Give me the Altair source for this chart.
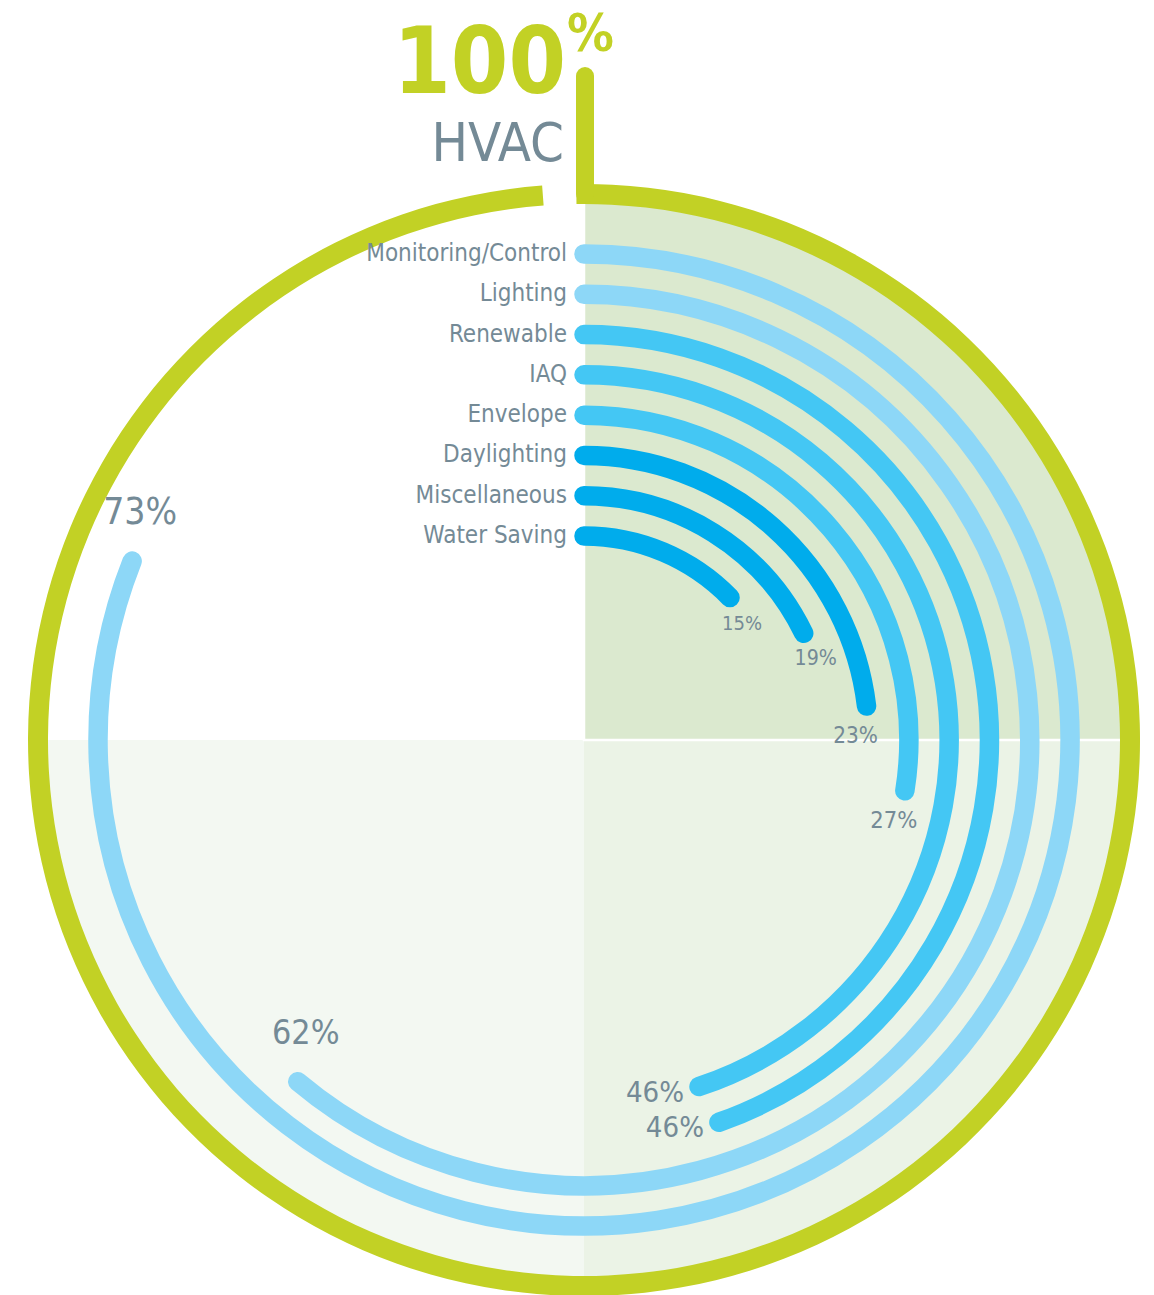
import math
import altair as alt
import pandas as pd

# ---- data ----
categories = ["Water Saving", "Miscellaneous", "Daylighting", "Envelope",
              "IAQ", "Renewable", "Lighting", "Monitoring/Control"]
values = [15, 19, 23, 27, 46, 46, 62, 73]                    # printed labels (%)
arc_extent = [12.7, 17.8, 23.1, 27.5, 44.9, 44.6, 61.1, 81.0]  # drawn sweep (% of full turn)
arc_colors = ["#00acec", "#00acec", "#00acec", "#44c7f4",
              "#44c7f4", "#44c7f4", "#8dd7f7", "#8dd7f7"]

quadrants = ["Q4", "Q3", "Q2", "Q1"]
quad_start = [75, 50, 25, 0]
quad_end = [100, 75, 50, 25]
quad_fill = ["#ffffff", "#f3f8f2", "#ebf3e6", "#dbe9cf"]

df = pd.DataFrame({
    "category": categories,
    "value": values,
    "extent": arc_extent,
    "ring": list(range(len(categories))),
})
qdf = pd.DataFrame({"quadrant": quadrants, "start": quad_start, "end": quad_end})

TEXT = "#748a96"
GREEN = "#c2d125"
FONT = "Liberation Sans Narrow, DejaVu Sans Condensed, sans-serif"
CX, CY = 584, 740

theta_scale = alt.Scale(domain=[0, 100], range=[0, 2 * math.pi])
ring_scale = alt.Scale(domain=[0, 7], range=[204, 486])
size_scale = alt.Scale(domain=[15, 73], range=[20, 37])

cx = alt.value(CX)
cy = alt.value(CY)

background = alt.Chart(qdf).mark_arc().encode(
    x=cx, y=cy,
    theta=alt.Theta("start:Q", scale=theta_scale, stack=None),
    theta2="end:Q",
    radius=alt.value(0),
    radius2=alt.value(546),
    fill=alt.Fill("quadrant:N", scale=alt.Scale(domain=quadrants, range=quad_fill), legend=None),
)

# white edge around the top-right quadrant (visible as the divider at 3 o'clock)
tr_edge = alt.Chart(qdf).transform_filter("datum.quadrant == 'Q1'").mark_arc(
    fill="#dbe9cf", stroke="#ffffff", strokeWidth=2.5
).encode(
    x=cx, y=cy,
    theta=alt.Theta("start:Q", scale=theta_scale, stack=None),
    theta2="end:Q",
    radius=alt.value(0),
    radius2=alt.value(546),
)

one = alt.Data(values=[{"k": 1}])

outer_ring = alt.Chart(one).mark_arc(color=GREEN).encode(
    x=cx, y=cy,
    theta=alt.value(-0.014),
    theta2=alt.value(2 * math.pi * 0.988),
    radius=alt.value(536),
    radius2=alt.value(556),
)

leader = alt.Chart(one).mark_rule(color=GREEN, strokeWidth=18, strokeCap="round").encode(
    x=alt.value(CX + 1), y=alt.value(76), y2=alt.value(194),
)

arcs = alt.Chart(df).transform_calculate(start="0").mark_arc(
    filled=False, strokeWidth=19.5, strokeJoin="round", strokeCap="round"
).encode(
    x=cx, y=cy,
    theta=alt.Theta("start:Q", scale=theta_scale, stack=None),
    theta2="extent:Q",
    radius=alt.Radius("ring:Q", scale=ring_scale),
    radius2="ring:Q",
    stroke=alt.Stroke("category:N", scale=alt.Scale(domain=categories, range=arc_colors), legend=None),
)

cat_labels = alt.Chart(df).mark_text(
    align="right", baseline="middle", dx=-17, font=FONT, fontSize=24, color=TEXT
).encode(
    x=cx, y=cy,
    theta=alt.value(0),
    radius=alt.Radius("ring:Q", scale=ring_scale),
    text="category:N",
)


def pct_layer(cond, dx, dy):
    return alt.Chart(df).transform_filter(cond).transform_calculate(
        label="datum.value + '%'"
    ).mark_text(align="center", baseline="middle", dx=dx, dy=dy, font=FONT, color=TEXT).encode(
        x=cx, y=cy,
        theta=alt.Theta("extent:Q", scale=theta_scale, stack=None),
        radius=alt.Radius("ring:Q", scale=ring_scale),
        size=alt.Size("value:Q", scale=size_scale, legend=None),
        text="label:N",
    )


pct_small = pct_layer("datum.value < 21", 12, 26)
pct_mid = pct_layer("datum.value >= 21 && datum.value < 40", -11, 30)
pct_46 = pct_layer("datum.value >= 40 && datum.value < 55", -44, 6)
pct_big = pct_layer("datum.value >= 55", 8, -48)

title_num = alt.Chart(one).mark_text(
    text="100", align="right", baseline="alphabetic", font=FONT, fontSize=92,
    fontWeight="bold", color=GREEN
).encode(x=alt.value(566), y=alt.value(93))

title_pct = alt.Chart(one).mark_text(
    text="%", align="left", baseline="alphabetic", font=FONT, fontSize=52,
    fontWeight="bold", color=GREEN
).encode(x=alt.value(567), y=alt.value(51))

title_hvac = alt.Chart(one).mark_text(
    text="HVAC", align="right", baseline="alphabetic", font=FONT, fontSize=54,
    color=TEXT
).encode(x=alt.value(564), y=alt.value(161))

chart = alt.layer(
    background, tr_edge, arcs, outer_ring, leader, cat_labels,
    pct_small, pct_mid, pct_46, pct_big,
    title_num, title_pct, title_hvac,
).properties(
    width=1154, height=1295, padding=0, autosize=alt.AutoSizeParams(type="none")
).configure_view(strokeWidth=0)

chart.save("out.html", embed_options={"renderer": "svg", "actions": False})
